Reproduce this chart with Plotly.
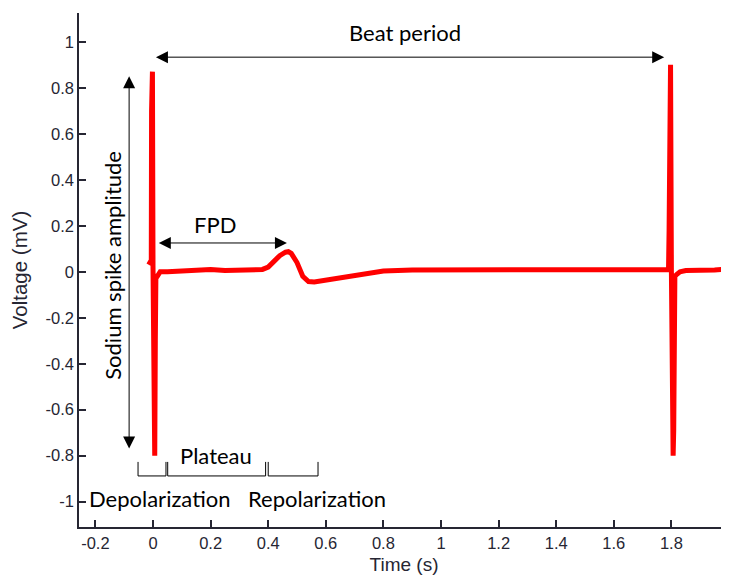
import plotly.graph_objects as go

# ---- data ----
time_s = [-0.015, -0.008, -0.006, -0.005, -0.004, -0.002, 0.0, 0.002, 0.006, 0.008, 0.010,
          0.015, 0.025, 0.05, 0.10, 0.15, 0.20, 0.25, 0.30, 0.35, 0.38, 0.40, 0.42, 0.44,
          0.46, 0.47, 0.48, 0.50, 0.52, 0.54, 0.56, 0.60, 0.65, 0.70, 0.75, 0.80, 0.90,
          1.00, 1.10, 1.20, 1.30, 1.40, 1.50, 1.60, 1.70, 1.785, 1.790, 1.792, 1.794,
          1.797, 1.800, 1.802, 1.806, 1.808, 1.810, 1.812, 1.820, 1.830, 1.850, 1.900,
          1.950, 2.000]
voltage_mv = [0.03, 0.04, 0.05, 0.70, 0.87, 0.87, 0.02, -0.80, -0.80, -0.30, -0.02,
              -0.02, 0.0, 0.0, 0.005, 0.01, 0.01, 0.005, 0.005, 0.005, 0.01, 0.02, 0.045, 0.07,
              0.085, 0.087, 0.08, 0.04, -0.02, -0.043, -0.045, -0.037, -0.025, -0.012, -0.003, 0.003, 0.008,
              0.008, 0.008, 0.008, 0.007, 0.006, 0.005, 0.005, 0.005, 0.005, 0.01, 0.18, 0.90,
              0.90, 0.0, -0.80, -0.80, -0.69, -0.20, -0.02, -0.01, 0.0, 0.005, 0.005,
              0.007, 0.012]

x_tick_vals = [-0.2, 0, 0.2, 0.4, 0.6, 0.8, 1, 1.2, 1.4, 1.6, 1.8]
x_tick_text = ["-0.2", "0", "0.2", "0.4", "0.6", "0.8", "1", "1.2", "1.4", "1.6", "1.8"]
y_tick_vals = [-1, -0.8, -0.6, -0.4, -0.2, 0, 0.2, 0.4, 0.6, 0.8, 1]
y_tick_text = ["-1", "-0.8", "-0.6", "-0.4", "-0.2", "0", "0.2", "0.4", "0.6", "0.8", "1"]

AX = "#262633"
TXT_FONT = dict(family="Lato, Open Sans, sans-serif", size=22, color="black")

fig = go.Figure()
fig.add_trace(go.Scatter(x=time_s, y=voltage_mv, mode="lines",
                         line=dict(color="#ff0000", width=5), hoverinfo="skip"))

def darrow(x0, y0, x1, y1):
    fig.add_annotation(x=x1, y=y1, ax=x0, ay=y0, xref="x", yref="y", axref="x", ayref="y",
                       text="", showarrow=True, arrowside="end+start", arrowhead=2,
                       arrowsize=2.4, arrowwidth=1, arrowcolor="black",
                       standoff=0, startstandoff=0)

def label(x, y, text, angle=0):
    fig.add_annotation(x=x, y=y, xref="x", yref="y", text=text, showarrow=False,
                       font=TXT_FONT, textangle=angle)

# Beat period
darrow(0.005, 0.933, 1.775, 0.933)
label(0.875, 1.04, "Beat period")
# FPD
darrow(0.015, 0.125, 0.465, 0.125)
label(0.215, 0.205, "FPD")
# Sodium spike amplitude
darrow(-0.083, -0.775, -0.083, 0.85)
label(-0.139, 0.03, "Sodium spike amplitude", angle=-90)

# Brackets
def bracket(x0, x1):
    yt, yb = -0.827, -0.888
    fig.add_shape(type="path", xref="x", yref="y",
                  path=f"M {x0},{yt} L {x0},{yb} L {x1},{yb} L {x1},{yt}",
                  line=dict(color="black", width=1))

bracket(-0.052, 0.045)
bracket(0.051, 0.391)
bracket(0.400, 0.573)
label(0.22, -0.80, "Plateau")
label(0.024, -0.985, "Depolarization")
label(0.568, -0.985, "Repolarization")

# the page body adds an 8px offset, so the figure is sized to fill the rest of the window
axis_font = dict(family="Liberation Sans, Arial, sans-serif", size=16.5, color=AX)
fig.update_layout(
    width=721, height=570,
    margin=dict(l=71, r=0, t=5, b=51),
    plot_bgcolor="white", paper_bgcolor="white",
    showlegend=False,
    font=axis_font,
    xaxis=dict(range=[-0.257, 2.0], tickvals=x_tick_vals, ticktext=x_tick_text,
               ticks="inside", ticklen=7, tickcolor=AX, tickwidth=1.5,
               showline=True, linecolor=AX, linewidth=1.5, showgrid=False, zeroline=False,
               automargin=False,
               title=dict(text="Time (s)",
                          font=dict(family="Liberation Sans, Arial, sans-serif", size=19, color=AX),
                          standoff=7)),
    yaxis=dict(range=[-1.11, 1.125], tickvals=y_tick_vals, ticktext=y_tick_text,
               ticks="inside", ticklen=7, tickcolor=AX, tickwidth=1.5,
               showline=True, linecolor=AX, linewidth=1.5, showgrid=False, zeroline=False,
               automargin=False,
               title=dict(text="Voltage (mV)",
                          font=dict(family="Liberation Sans, Arial, sans-serif", size=20.5, color=AX),
                          standoff=14)),
)

fig.write_html("out.html")
